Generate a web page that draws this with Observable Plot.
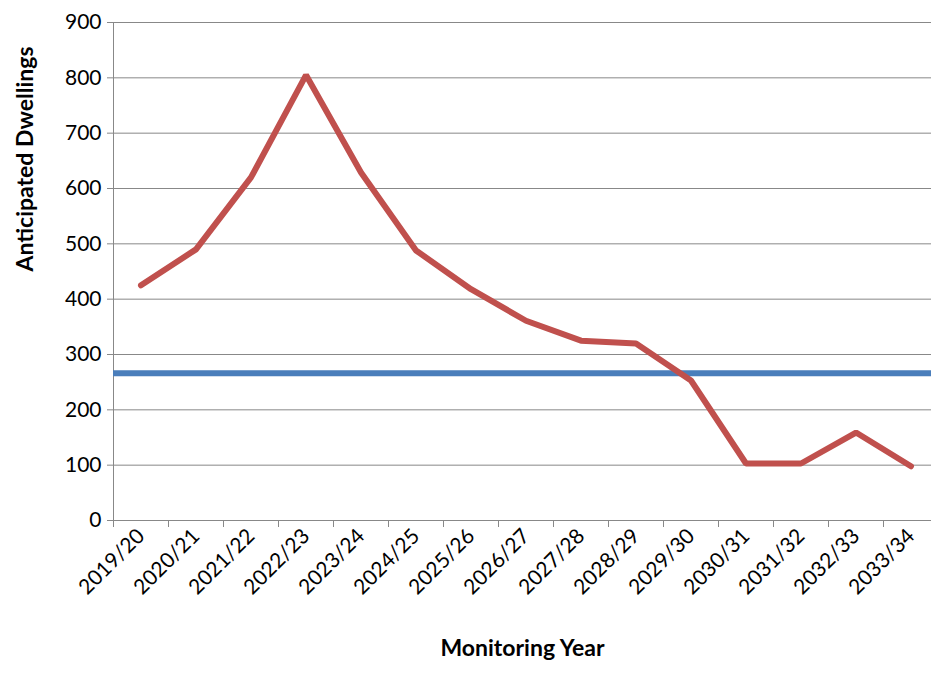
<!DOCTYPE html>
<html lang="en">
<head>
<meta charset="utf-8">
<title>Anticipated dwellings</title>
<script src="https://cdn.jsdelivr.net/npm/d3@7"></script>
<script src="https://cdn.jsdelivr.net/npm/@observablehq/plot@0.6"></script>
<style>
  body { margin: 0; background: #fff; }
</style>
</head>
<body>
<div id="graphic"></div>
<script>
  const years = ["2019/20","2020/21","2021/22","2022/23","2023/24","2024/25","2025/26","2026/27",
    "2027/28","2028/29","2029/30","2030/31","2031/32","2032/33","2033/34"];
  const dwellings = [425, 490, 620, 805, 629, 488, 418, 361, 325, 320, 253, 103, 103, 159, 98];
  const requirement = 266;
  const yTicks = [0, 100, 200, 300, 400, 500, 600, 700, 800, 900];

  const data = years.map((y, i) => ({pos: i + 0.5, year: y, value: dwellings[i]}));

  const chart = Plot.plot({
    width: 931, height: 673,
    marginTop: 22, marginBottom: 153, marginLeft: 113, marginRight: 0,
    style: {fontFamily: "Lato, 'Open Sans', sans-serif", fontSize: "21px", color: "#000", overflow: "visible"},
    x: {type: "linear", domain: [0, 15], range: [113, 938]},
    y: {domain: [0, 900], range: [520, 22]},
    marks: [
      Plot.gridY(yTicks, {stroke: "#888", strokeOpacity: 1, strokeWidth: 1}),
      Plot.ruleX([0], {stroke: "#888"}),
      Plot.axisY(yTicks, {tickSize: 6, tickPadding: 6, stroke: "#888", label: null}),
      Plot.axisX(d3.range(16), {tickSize: 7, tickFormat: () => "", stroke: "#888", label: null}),
      Plot.axisX(data.map(d => d.pos), {tickSize: 0, tickPadding: 12, tickRotate: -45,
        tickFormat: p => years[Math.round(p - 0.5)], label: null}),
      Plot.ruleY([0], {stroke: "#888"}),
      Plot.ruleY([requirement], {stroke: "#4a7ebb", strokeWidth: 6}),
      Plot.line(data, {x: "pos", y: "value", stroke: "#c0504d", strokeWidth: 6, strokeLinejoin: "miter"}),
      Plot.text(["Monitoring Year"], {frameAnchor: "bottom", dy: 135, fontWeight: "bold", fontSize: 23}),
      Plot.text(["Anticipated Dwellings"], {frameAnchor: "left", dx: -88, rotate: -90, fontWeight: "bold", fontSize: 23})
    ]
  });
  document.getElementById("graphic").appendChild(chart);
</script>
</body>
</html>
